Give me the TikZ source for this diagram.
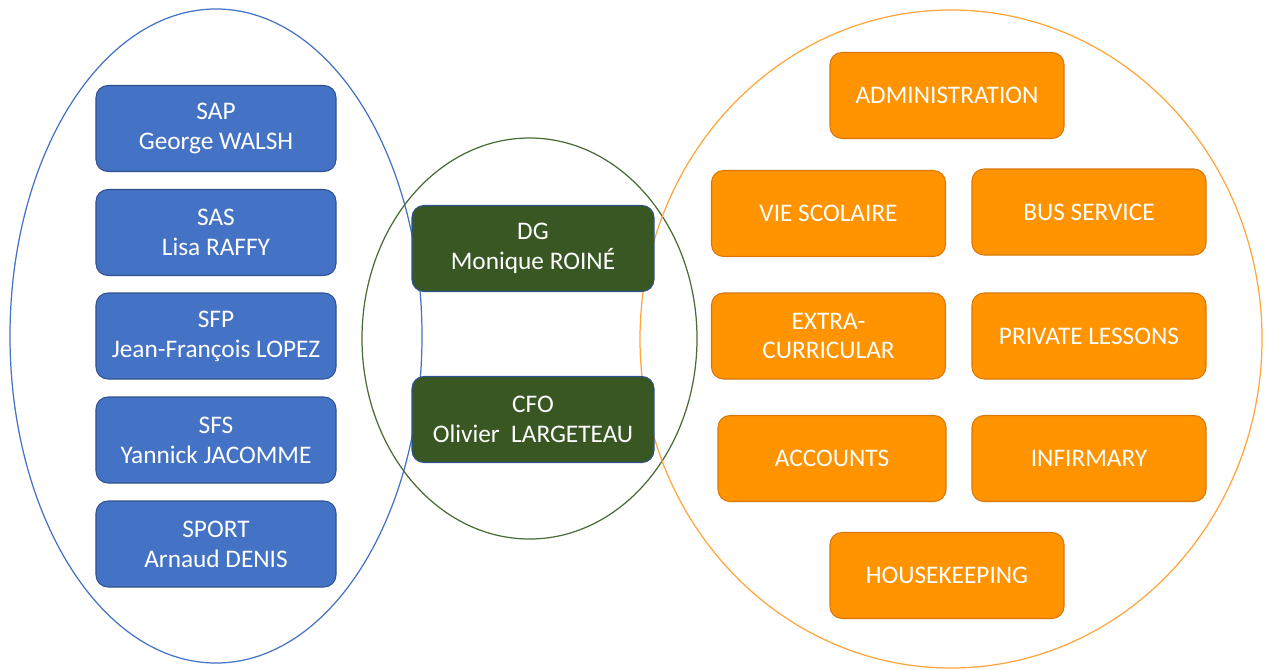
\documentclass[tikz,border=0pt]{standalone}
\usepackage{fontspec}
\setmainfont{Carlito}
\definecolor{sblue}{HTML}{4472C4}
\definecolor{sblueline}{HTML}{2F528F}
\definecolor{dgreen}{HTML}{385723}
\definecolor{dgreenline}{HTML}{4A6B35}
\definecolor{sorange}{HTML}{FF9300}
\definecolor{sorangeline}{HTML}{D9780A}
\definecolor{sorangering}{HTML}{FFA53A}
\tikzset{
  box/.style={rounded corners=0.24cm, text=white, align=center, line width=0.6pt,
    minimum height=1.72cm, font=\fontsize{14.4}{17}\selectfont},
  service/.style={box, draw=sblueline, fill=sblue, minimum width=4.8cm},
  head/.style={box, draw=sblueline, fill=dgreen, minimum width=4.84cm},
  dept/.style={box, draw=sorangeline, fill=sorange, minimum width=4.68cm},
}
\begin{document}
\begin{tikzpicture}[x=0.2cm,y=-0.2cm]
    \useasboundingbox (0,0) rectangle (126.9,66.9);
    \draw[sblue, line width=0.7pt] (21.6,33.6) ellipse (4.12cm and 6.54cm);
    \draw[dgreenline, line width=0.7pt] (52.95,33.85) ellipse (3.35cm and 4.01cm);
    \draw[sorangering, line width=0.7pt] (95.1,33.9) ellipse (6.22cm and 6.58cm);
    \node[service] (sap) at (21.6,12.85) {SAP\\George WALSH};
    \node[service] (sas) at (21.6,23.25) {SAS\\Lisa RAFFY};
    \node[service] (sfp) at (21.6,33.6) {SFP\\Jean-François LOPEZ};
    \node[service] (sfs) at (21.6,44.0) {SFS\\Yannick JACOMME};
    \node[service] (sport) at (21.6,54.4) {SPORT\\Arnaud DENIS};
    \node[head] (dg) at (53.3,24.85) {DG\\Monique ROINÉ};
    \node[head] (cfo) at (53.3,41.95) {CFO\\Olivier~~LARGETEAU};
    \node[dept] (admin) at (94.7,9.55) {ADMINISTRATION};
    \node[dept] (vie) at (82.85,21.35) {VIE SCOLAIRE};
    \node[dept] (bus) at (108.9,21.2) {BUS SERVICE};
    \node[dept] (extra) at (82.85,33.6) {EXTRA-\\CURRICULAR};
    \node[dept] (lessons) at (108.9,33.6) {PRIVATE LESSONS};
    \node[dept, minimum width=4.56cm] (accounts) at (83.2,45.85) {ACCOUNTS};
    \node[dept] (infirmary) at (108.9,45.85) {INFIRMARY};
    \node[dept] (housekeeping) at (94.7,57.55) {HOUSEKEEPING};
\end{tikzpicture}
\end{document}
